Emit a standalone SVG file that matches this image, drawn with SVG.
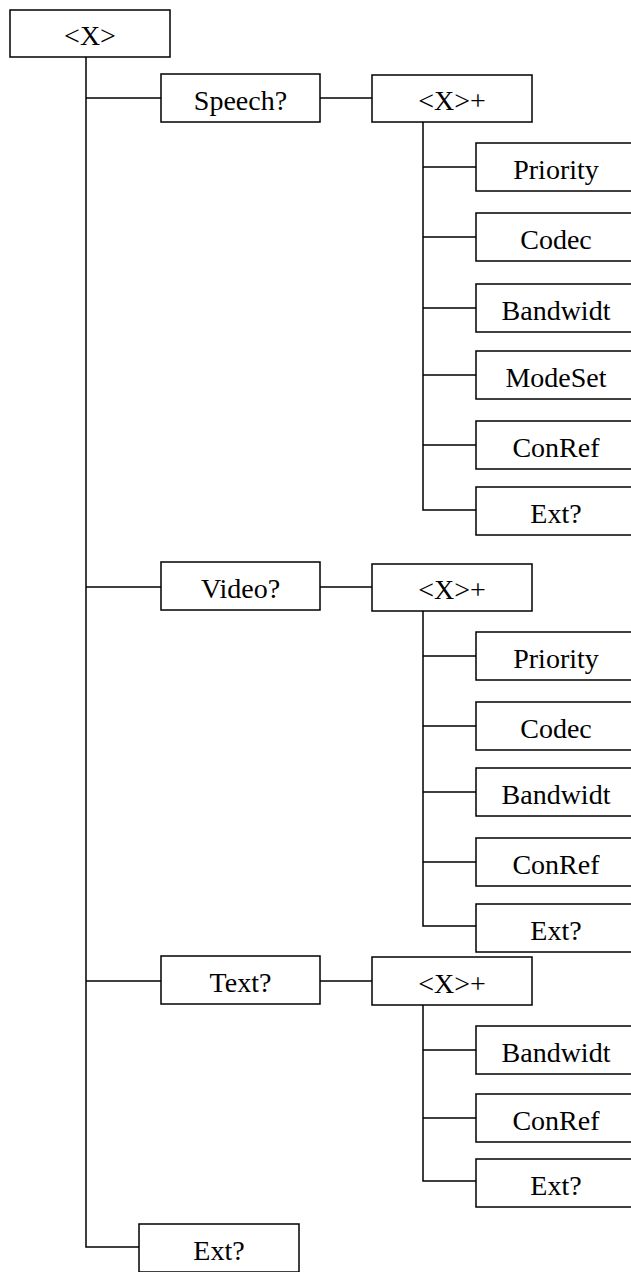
<svg xmlns="http://www.w3.org/2000/svg" width="631" height="1272" viewBox="0 0 631 1272">
<style>
  rect { fill: #ffffff; stroke: #000000; stroke-width: 1.5; }
  text { font-family: "Liberation Serif", "Times New Roman", serif; font-size: 28px; fill: #000000; text-anchor: middle; }
  .c { fill: none; stroke: #000000; stroke-width: 1.5; }
</style>
<rect x="0" y="0" width="631" height="1272" style="fill:#ffffff;stroke:none"/>
<g id="connectors">
  <path class="c" d="M86 57 V1247 H139"/>
  <path class="c" d="M86 98 H161"/>
  <path class="c" d="M86 587 H161"/>
  <path class="c" d="M86 981 H161"/>
  <path class="c" d="M320 98 H372"/>
  <path class="c" d="M320 587 H372"/>
  <path class="c" d="M320 981 H372"/>
  <path class="c" d="M423 122 V510 H476"/>
  <path class="c" d="M423 167 H476 M423 237 H476 M423 308 H476 M423 375 H476 M423 445 H476"/>
  <path class="c" d="M423 611 V926 H476"/>
  <path class="c" d="M423 656 H476 M423 726 H476 M423 792 H476 M423 862 H476"/>
  <path class="c" d="M423 1005 V1181 H476"/>
  <path class="c" d="M423 1050 H476 M423 1118 H476"/>
</g>
<g id="root"><rect x="10" y="10" width="160" height="47"/><text x="90" y="45">&lt;X&gt;</text></g>
<g id="speech"><rect x="161" y="74" width="159" height="48"/><text x="240.5" y="109.5">Speech?</text></g>
<g id="speech-x"><rect x="372" y="75" width="160" height="47"/><text x="452" y="110">&lt;X&gt;+</text></g>
<g id="s-priority"><rect x="476" y="143" width="160" height="48"/><text x="556" y="178.5">Priority</text></g>
<g id="s-codec"><rect x="476" y="213" width="160" height="48"/><text x="556" y="248.5">Codec</text></g>
<g id="s-bandwidt"><rect x="476" y="284" width="160" height="48"/><text x="556" y="319.5">Bandwidt</text></g>
<g id="s-modeset"><rect x="476" y="351" width="160" height="48"/><text x="556" y="386.5">ModeSet</text></g>
<g id="s-conref"><rect x="476" y="421" width="160" height="48"/><text x="556" y="456.5">ConRef</text></g>
<g id="s-ext"><rect x="476" y="487" width="160" height="48"/><text x="556" y="522.5">Ext?</text></g>
<g id="video"><rect x="161" y="562" width="159" height="48"/><text x="240.5" y="597.5">Video?</text></g>
<g id="video-x"><rect x="372" y="564" width="160" height="47"/><text x="452" y="599">&lt;X&gt;+</text></g>
<g id="v-priority"><rect x="476" y="632" width="160" height="48"/><text x="556" y="667.5">Priority</text></g>
<g id="v-codec"><rect x="476" y="702" width="160" height="48"/><text x="556" y="737.5">Codec</text></g>
<g id="v-bandwidt"><rect x="476" y="768" width="160" height="48"/><text x="556" y="803.5">Bandwidt</text></g>
<g id="v-conref"><rect x="476" y="838" width="160" height="48"/><text x="556" y="873.5">ConRef</text></g>
<g id="v-ext"><rect x="476" y="904" width="160" height="48"/><text x="556" y="939.5">Ext?</text></g>
<g id="text"><rect x="161" y="956" width="159" height="48"/><text x="240.5" y="991.5">Text?</text></g>
<g id="text-x"><rect x="372" y="957" width="160" height="48"/><text x="452" y="992.5">&lt;X&gt;+</text></g>
<g id="t-bandwidt"><rect x="476" y="1026" width="160" height="48"/><text x="556" y="1061.5">Bandwidt</text></g>
<g id="t-conref"><rect x="476" y="1094" width="160" height="48"/><text x="556" y="1129.5">ConRef</text></g>
<g id="t-ext"><rect x="476" y="1159" width="160" height="48"/><text x="556" y="1194.5">Ext?</text></g>
<g id="ext"><rect x="139" y="1224" width="160" height="48"/><text x="219" y="1259.5">Ext?</text></g>
</svg>
